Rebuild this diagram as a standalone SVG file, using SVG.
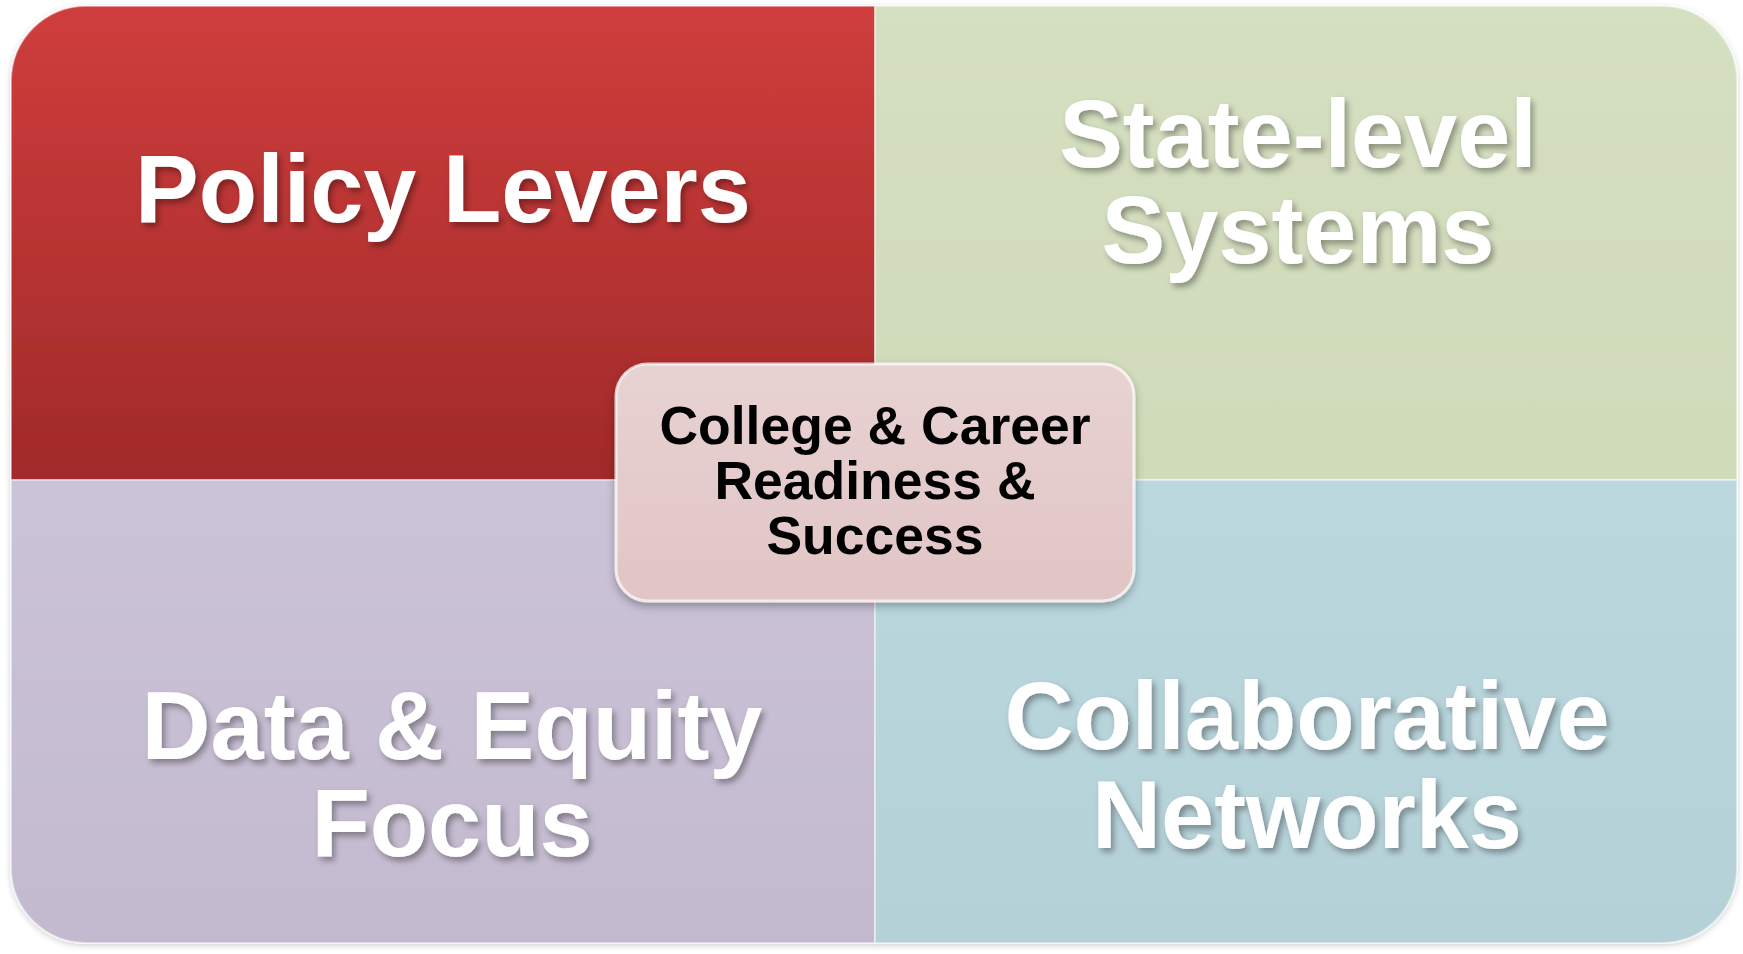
<svg xmlns="http://www.w3.org/2000/svg" width="1743" height="954" viewBox="0 0 1743 954">
<defs>
<linearGradient id="gRed" x1="0" y1="0" x2="0" y2="1"><stop offset="0" stop-color="#cf3d3c"/><stop offset="1" stop-color="#a12a2a"/></linearGradient>
<linearGradient id="gGreen" x1="0" y1="0" x2="0" y2="1"><stop offset="0" stop-color="#d5dfc1"/><stop offset="1" stop-color="#d0dbba"/></linearGradient>
<linearGradient id="gPurple" x1="0" y1="0" x2="0" y2="1"><stop offset="0" stop-color="#cbc3d7"/><stop offset="1" stop-color="#c3bacf"/></linearGradient>
<linearGradient id="gBlue" x1="0" y1="0" x2="0" y2="1"><stop offset="0" stop-color="#bbd8df"/><stop offset="1" stop-color="#b5d1d8"/></linearGradient>
<linearGradient id="gCenter" x1="0" y1="0" x2="0" y2="1"><stop offset="0" stop-color="#e8d2d2"/><stop offset="1" stop-color="#e1c5c5"/></linearGradient>
<filter id="ts" x="-10%" y="-20%" width="120%" height="150%"><feDropShadow dx="3" dy="4" stdDeviation="3" flood-color="#000" flood-opacity="0.35"/></filter>
<filter id="bs" x="-10%" y="-10%" width="120%" height="130%"><feDropShadow dx="0" dy="4" stdDeviation="4" flood-color="#000" flood-opacity="0.3"/></filter>
<filter id="os" x="-5%" y="-5%" width="110%" height="115%"><feDropShadow dx="0" dy="2" stdDeviation="3" flood-color="#000" flood-opacity="0.2"/></filter>
</defs>
<style>
.q{stroke:#ffffff;stroke-opacity:0.45;stroke-width:2}
.big{font-family:"Liberation Sans",Arial,sans-serif;font-weight:bold;font-size:95.5px;fill:#ffffff;text-anchor:middle}
.mid{font-family:"Liberation Sans",Arial,sans-serif;font-weight:bold;font-size:53.5px;fill:#000000;text-anchor:middle}
</style>
<rect width="1743" height="954" fill="#ffffff"/>
<g filter="url(#os)">
<g id="policy-levers">
<path class="q" d="M11,81 A75,75 0 0 1 86,6 L875,6 L875,480 L11,480 Z" fill="url(#gRed)"/>
<text class="big" x="443" y="222" filter="url(#ts)">Policy Levers</text>
</g>
<g id="state-level-systems">
<path class="q" d="M875,6 L1662,6 A75,75 0 0 1 1737,81 L1737,480 L875,480 Z" fill="url(#gGreen)"/>
<text class="big" x="1298" y="167" filter="url(#ts)">State-level</text>
<text class="big" x="1298" y="263" filter="url(#ts)">Systems</text>
</g>
<g id="data-equity-focus">
<path class="q" d="M11,480 L875,480 L875,943 L86,943 A75,75 0 0 1 11,868 Z" fill="url(#gPurple)"/>
<text class="big" x="452" y="759" filter="url(#ts)">Data &amp; Equity</text>
<text class="big" x="452" y="856" filter="url(#ts)">Focus</text>
</g>
<g id="collaborative-networks">
<path class="q" d="M875,480 L1737,480 L1737,868 A75,75 0 0 1 1662,943 L875,943 Z" fill="url(#gBlue)"/>
<text class="big" x="1307" y="749" filter="url(#ts)">Collaborative</text>
<text class="big" x="1307" y="848" filter="url(#ts)">Networks</text>
</g>
</g>
<g id="connectors"/>
<g id="college-career">
<rect x="616" y="364" width="518" height="237" rx="32" ry="32" fill="url(#gCenter)" stroke="#ffffff" stroke-opacity="0.7" stroke-width="3" filter="url(#bs)"/>
<text class="mid" x="875" y="444">College &amp; Career</text>
<text class="mid" x="875" y="499">Readiness &amp;</text>
<text class="mid" x="875" y="554">Success</text>
</g>
</svg>
